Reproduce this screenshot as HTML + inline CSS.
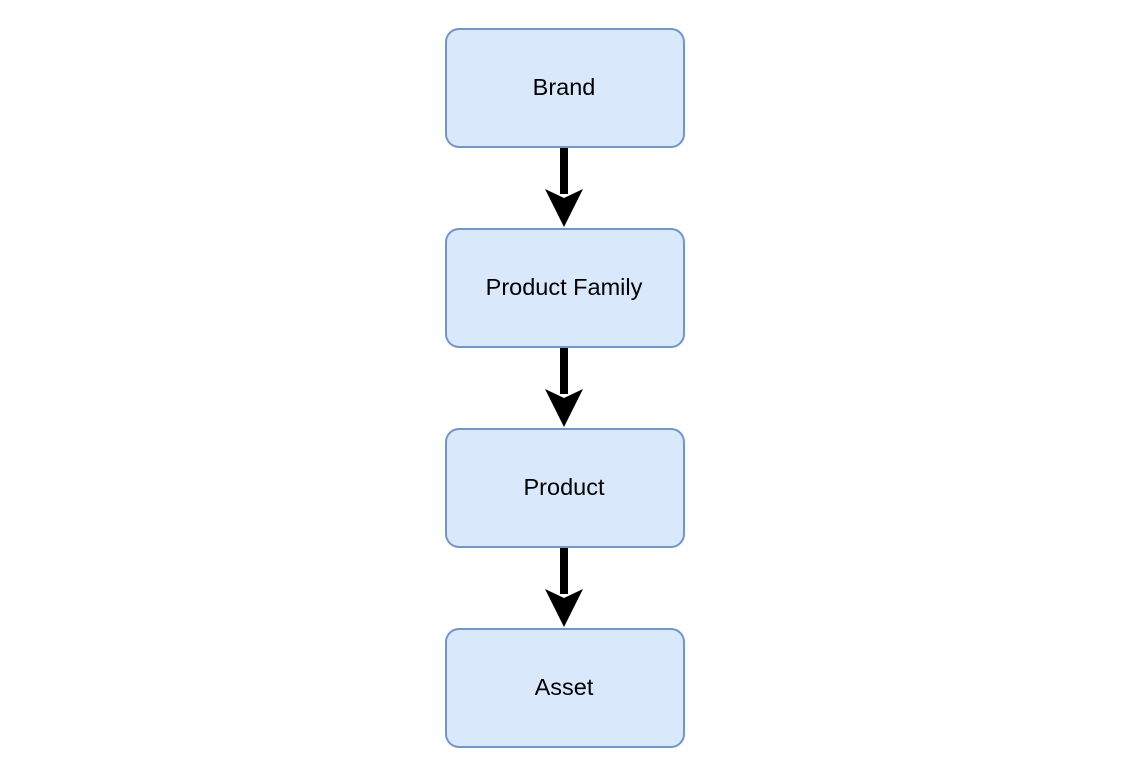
<!DOCTYPE html>
<html><head><style>
html,body{margin:0;padding:0;background:#fff;}
body{width:1139px;height:771px;position:relative;overflow:hidden;font-family:"Liberation Sans",Arial,sans-serif;}
.b{position:absolute;left:445px;width:234px;height:114px;background:#dae8fc;border:2px solid #7396c8;border-radius:14px;display:flex;align-items:center;justify-content:center;font-size:23.5px;color:#000;padding-right:2px;padding-bottom:2px;box-sizing:content-box;}
svg{position:absolute;left:0;top:0;}
</style></head><body>
<svg width="1139" height="771">
<g fill="#000">
<rect x="560" y="148" width="8" height="46"/>
<polygon points="545,189 564,198 583,189 564,227"/>
<rect x="560" y="348" width="8" height="46"/>
<polygon points="545,389 564,398 583,389 564,427"/>
<rect x="560" y="548" width="8" height="46"/>
<polygon points="545,589 564,598 583,589 564,627"/>
</g>
</svg>
<div class="b" style="top:28px">Brand</div>
<div class="b" style="top:228px">Product Family</div>
<div class="b" style="top:428px">Product</div>
<div class="b" style="top:628px">Asset</div>
</body></html>
